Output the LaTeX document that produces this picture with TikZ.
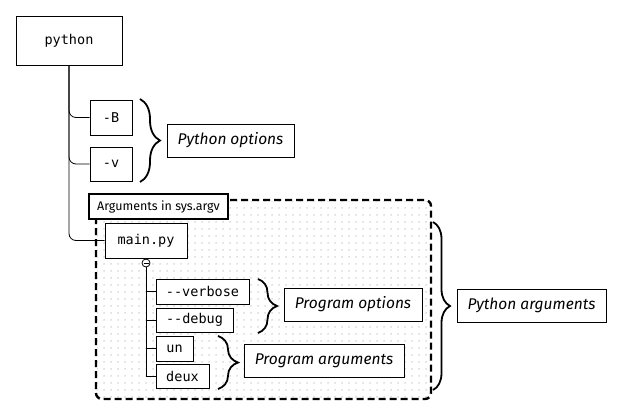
\documentclass[tikz,border=0pt]{standalone}
\usepackage{fontspec}
\setmainfont{Fira Sans}
\setmonofont{DejaVu Sans Mono}
\usetikzlibrary{decorations.pathreplacing,patterns.meta}
\begin{document}
\begin{tikzpicture}[x=1pt,y=-1pt,
  box/.style={draw, line width=0.8pt, fill=white, inner sep=0pt, font=\fontsize{13.5}{15}\selectfont\ttfamily},
  lbl/.style={draw, line width=0.8pt, fill=white, inner sep=0pt, font=\fontsize{15.5}{17}\selectfont\itshape},
  argbox/.style={draw, line width=2.4pt, fill=white, inner sep=0pt, font=\fontsize{12.5}{14}\selectfont},
  tree/.style={line width=0.8pt},
  curly/.style={line width=1.8pt, decorate, decoration={brace, amplitude=#1}},
  region/.style={line width=2.4pt, dash pattern=on 7pt off 4pt, rounded corners=6pt}
]
\useasboundingbox (0,0) rectangle (623,416);
% dotted region
\fill[pattern={Dots[distance=6.5pt, radius=0.5pt]}] (97,201) rectangle (430,398);
\draw[region] (96,200) rectangle (431,399);
% nodes
\node[box, minimum width=106, minimum height=49] (python) at (69,40.5) {python};
\node[box, minimum width=42, minimum height=35] (B) at (111,117.5) {-B};
\node[box, minimum width=42, minimum height=34] (v) at (111,164) {-v};
\node[lbl, minimum width=127, minimum height=33] (pyopt) at (230.5,140.5) {Python options};
\node[argbox, minimum width=139, minimum height=25] (args) at (158.5,206.5) {Arguments in sys.argv};
\node[box, minimum width=82, minimum height=35] (main) at (146,240.5) {main.py};
\node[box, minimum width=93, minimum height=25] (verbose) at (202.5,291.5) {-{}-verbose};
\node[box, minimum width=77, minimum height=24] (debug) at (194.5,320) {-{}-debug};
\node[box, minimum width=37, minimum height=25] (un) at (174.5,348.5) {un};
\node[box, minimum width=53, minimum height=24] (deux) at (182.5,376) {deux};
\node[lbl, minimum width=138, minimum height=33] (progopt) at (353,304.5) {Program options};
\node[lbl, minimum width=160, minimum height=33] (progarg) at (324,360.5) {Program arguments};
\node[lbl, minimum width=149, minimum height=33] (pyarg) at (531.5,305.5) {Python arguments};
\node[circle, draw, line width=0.8pt, fill=white, minimum size=8pt, inner sep=0pt] (minus) at (146,263) {};
\draw[line width=0.8pt] ([xshift=-2.5pt]minus.center) -- ([xshift=2.5pt]minus.center);
% connectors
\draw[tree, rounded corners=7pt] (python.south) |- (B.west);
\draw[tree, rounded corners=7pt] (python.south) |- (v.west);
\draw[tree, rounded corners=7pt] (python.south) |- (main.west);
\draw[tree] (main.south) -- (minus.north);
\draw[tree] (minus.south) |- (verbose.west);
\draw[tree] (minus.south) |- (debug.west);
\draw[tree] (minus.south) |- (un.west);
\draw[tree] (minus.south) |- (deux.west);
% braces
\coordinate (b1s) at (140,99);  \coordinate (b1e) at (140,182);
\coordinate (b2s) at (258,279); \coordinate (b2e) at (258,333);
\coordinate (b3s) at (218,336); \coordinate (b3e) at (218,389);
\coordinate (b4s) at (433,222); \coordinate (b4e) at (433,390);
\draw[curly=20pt] (b1s) -- (b1e);
\draw[curly=19pt] (b2s) -- (b2e);
\draw[curly=20pt] (b3s) -- (b3e);
\draw[curly=17pt] (b4s) -- (b4e);
\end{tikzpicture}
\end{document}
